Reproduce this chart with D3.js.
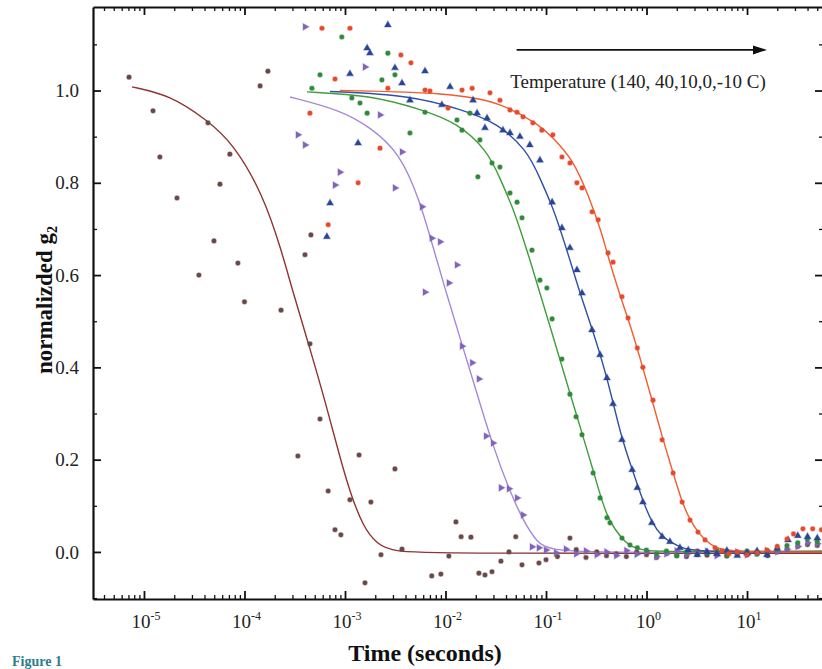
<!DOCTYPE html>
<html>
<head>
<meta charset="utf-8">
<script src="https://cdn.jsdelivr.net/npm/d3@7"></script>
<style>
  body { margin: 0; background: #fff; }
  svg { display: block; font-family: "Liberation Serif", "DejaVu Serif", serif; }
</style>
</head>
<body>
<script>
'use strict';

// tick decades on the time axis and value ticks
const decades = [-5, -4, -3, -2, -1, 0, 1];
const yTicks = [0, 0.2, 0.4, 0.6, 0.8, 1.0];
const yMinorTicks = [-0.1, 0.1, 0.3, 0.5, 0.7, 0.9, 1.1];

// 140 C
const brownPoints = [[7.1e-6,1.029],[1.23e-5,0.956],[1.44e-5,0.856],[2.13e-5,0.767],[3.52e-5,0.60],[4.33e-5,0.93],
  [4.97e-5,0.674],[5.7e-5,0.797],[7.15e-5,0.862],[8.6e-5,0.626],[1.0e-4,0.542],[1.43e-4,1.01],[1.71e-4,1.042],
  [2.31e-4,0.524],[3.4e-4,0.208],[4.0e-4,0.644],[4.48e-4,0.451],[4.58e-4,0.687],[5.64e-4,0.288],[6.8e-4,0.132],
  [7.95e-4,0.048],[9.1e-4,0.037],[1.12e-3,0.113],[1.38e-3,0.21],[1.58e-3,-0.067],[1.81e-3,0.108],[2.28e-3,-0.006],
  [3.14e-3,0.18],[3.69e-3,0.006],[7.3e-3,-0.052],[9.0e-3,-0.048],[1.08e-2,-0.009],[1.27e-2,0.065],[1.43e-2,0.033],
  [1.79e-2,0.032],[2.15e-2,-0.046],[2.47e-2,-0.05],[2.9e-2,-0.043],[3.56e-2,-0.02],[4.28e-2,0.0],[5.0e-2,0.033],
  [5.77e-2,-0.028],[8.5e-2,-0.024],[0.1,-0.017],[0.13,-0.01],[0.173,0.03],[0.2,0.005],[0.25,-0.012],[0.32,0.0],
  [0.4,-0.008],[0.5,-0.004],[0.63,-0.01],[0.8,0.0],[1.0,-0.006],[1.26,-0.012],[1.6,-0.003],[2.0,-0.008],[2.5,-0.01],
  [3.2,0.002],[4.0,-0.007],[5.0,-0.005],[6.3,-0.009],[8.0,-0.004],[10,-0.006],[12.6,-0.003],[16,-0.008],[20,0.0],
  [25,0.006],[32,0.012],[40,0.016],[50,0.014]];
const brownFit = [[7.6e-6,1.008],[1.82e-5,0.99],[4.24e-5,0.936],[7.69e-5,0.886],[1.53e-4,0.775],[2.36e-4,0.65],
  [2.97e-4,0.57],[4.49e-4,0.44],[6.47e-4,0.32],[8.9e-4,0.205],[1.12e-3,0.13],[1.51e-3,0.055],[2.08e-3,0.017],
  [3.0e-3,0.0],[1e-2,-0.003],[57,-0.003]];

// 40 C
const purplePoints = [[3.4e-4,0.904],[4.0e-4,0.882],[4.0e-4,1.138],[7.95e-4,0.795],[8.9e-4,0.823],[1.58e-3,1.051],
  [2.23e-3,0.947],[3.14e-3,0.789],[3.69e-3,0.867],[5.84e-3,0.748],[6.25e-3,0.563],[7.3e-3,0.68],[8.82e-3,0.672],
  [1.08e-2,0.583],[1.3e-2,0.622],[1.46e-2,0.446],[1.84e-2,0.41],[2.15e-2,0.375],[2.53e-2,0.251],[2.97e-2,0.236],
  [3.56e-2,0.139],[4.28e-2,0.137],[5.15e-2,0.117],[5.9e-2,0.08],[7.25e-2,0.011],[8.5e-2,0.009],[0.1,0.004],
  [0.126,-0.002],[0.158,0.006],[0.2,-0.004],[0.25,0.002],[0.32,-0.006],[0.4,0.0],[0.5,-0.008],[0.63,0.003],
  [0.8,-0.005],[1.0,0.0],[1.26,-0.01],[1.58,-0.004],[2.0,0.002],[2.5,-0.006],[3.2,-0.002],[4.0,0.001],[5.0,-0.008],
  [6.3,-0.004],[8.0,0.0],[10,-0.006],[12.6,-0.002],[15.8,0.003],[20,0.0],[25,0.006],[32,0.012],[40,0.02],[50,0.018]];
const purpleFit = [[2.84e-4,0.986],[8.9e-4,0.958],[1.77e-3,0.921],[3.52e-3,0.865],[5.57e-3,0.76],[7.18e-3,0.676],
  [9.9e-3,0.57],[1.39e-2,0.465],[1.97e-2,0.357],[2.97e-2,0.228],[4.39e-2,0.13],[5.9e-2,0.069],[8.13e-2,0.02],
  [0.11,0.004],[0.344,-0.002],[57,0.0]];

// 10 C
const greenPoints = [[4.69e-4,1.005],[5.64e-4,1.034],[9.3e-4,1.116],[1.17e-3,0.984],[1.41e-3,0.973],[1.66e-3,0.951],
  [2.33e-3,1.023],[2.67e-3,1.081],[3.14e-3,1.034],[4.43e-3,0.908],[6.25e-3,0.953],[1.3e-2,0.936],[1.46e-2,0.914],
  [1.75e-2,0.951],[2.1e-2,0.813],[2.2e-2,0.893],[2.9e-2,0.843],[3.48e-2,0.834],[4.38e-2,0.778],[5.15e-2,0.758],
  [5.77e-2,0.724],[7.25e-2,0.654],[8.7e-2,0.589],[0.102,0.572],[0.115,0.505],[0.144,0.418],[0.173,0.342],
  [0.199,0.293],[0.228,0.254],[0.294,0.171],[0.345,0.117],[0.404,0.074],[0.433,0.063],[0.57,0.03],[0.685,0.015],
  [0.81,0.009],[1.0,0.004],[1.26,-0.004],[1.58,0.002],[2.0,-0.008],[2.5,0.0],[3.2,-0.006],[4.0,-0.002],[5.0,0.003],
  [6.3,-0.007],[8.0,-0.003],[10,0.002],[12.6,-0.005],[15.8,0.0],[20,0.006],[25,0.014],[32,0.02],[40,0.028],[50,0.022]];
const greenFit = [[4.19e-4,0.997],[1.77e-3,0.99],[5.97e-3,0.958],[1.3e-2,0.93],[2.59e-2,0.871],[3.48e-2,0.81],
  [4.59e-2,0.75],[5.51e-2,0.70],[6.93e-2,0.633],[8.71e-2,0.56],[0.110,0.488],[0.138,0.416],[0.173,0.344],
  [0.218,0.272],[0.274,0.20],[0.344,0.125],[0.405,0.078],[0.486,0.048],[0.611,0.022],[0.718,0.011],[0.923,0.004],
  [1.36,0.0],[57,0.002]];

// 0 C
const bluePoints = [[6.6e-4,0.683],[7.1e-4,0.756],[1.12e-3,1.036],[1.35e-3,0.886],[1.66e-3,1.092],[1.77e-3,1.081],
  [2.67e-3,1.142],[3.14e-3,1.049],[3.69e-3,1.016],[4.43e-3,0.979],[6.25e-3,1.042],[9.2e-3,0.969],[1.11e-2,1.008],
  [1.88e-2,0.979],[2.06e-2,0.951],[2.47e-2,0.919],[2.59e-2,0.94],[3.73e-2,0.914],[4.38e-2,0.908],[5.5e-2,0.90],
  [6.9e-2,0.882],[8.7e-2,0.849],[0.115,0.758],[0.144,0.702],[0.173,0.659],[0.203,0.611],[0.228,0.561],[0.287,0.481],
  [0.345,0.427],[0.404,0.377],[0.464,0.321],[0.57,0.243],[0.72,0.178],[0.81,0.139],[0.92,0.108],[1.13,0.063],
  [1.43,0.033],[1.71,0.022],[2.15,0.009],[2.6,0.004],[3.2,-0.006],[4.0,0.0],[5.0,-0.004],[6.3,0.003],[8.0,-0.008],
  [10,-0.002],[12.6,0.002],[15.8,-0.006],[20,0.008],[25.6,0.026],[32,0.035],[40,0.033],[50,0.03]];
const blueFit = [[7.1e-4,0.998],[4.44e-3,0.99],[1.49e-2,0.958],[3.25e-2,0.93],[6.47e-2,0.871],[8.71e-2,0.81],
  [0.115,0.75],[0.138,0.70],[0.173,0.633],[0.218,0.56],[0.287,0.485],[0.405,0.38],[0.557,0.25],[0.718,0.18],
  [0.923,0.11],[1.13,0.063],[1.43,0.033],[1.79,0.02],[2.25,0.009],[3.04,0.0],[57,0.0]];

// -10 C
const redPoints = [[4.48e-4,0.951],[5.9e-4,1.135],[6.8e-4,0.709],[7.95e-4,1.025],[1.12e-3,1.135],[1.35e-3,0.80],
  [2.23e-3,0.875],[2.67e-3,1.005],[3.6e-3,1.077],[4.53e-3,1.06],[6.25e-3,1.001],[7.0e-3,0.999],[1.06e-2,0.962],
  [1.46e-2,1.001],[1.84e-2,1.005],[2.77e-2,0.995],[3.48e-2,0.979],[4.38e-2,0.958],[5.15e-2,0.953],[5.9e-2,0.943],
  [7.4e-2,0.93],[9.1e-2,0.914],[0.117,0.904],[0.144,0.856],[0.173,0.843],[0.203,0.80],[0.228,0.789],[0.287,0.737],
  [0.33,0.72],[0.414,0.648],[0.464,0.628],[0.57,0.553],[0.655,0.507],[0.81,0.442],[0.92,0.40],[1.16,0.329],
  [1.43,0.243],[1.84,0.171],[2.26,0.108],[2.71,0.069],[3.25,0.043],[3.82,0.026],[4.8,0.009],[5.6,0.002],
  [6.6,-0.004],[8.0,0.0],[10,-0.006],[12.6,-0.002],[15.8,0.004],[20,0.012],[25,0.028],[29,0.039],[36,0.05],
  [45,0.05],[55,0.048]];
const redFit = [[8.9e-4,1.0],[1.11e-2,0.995],[3.48e-2,0.975],[8.71e-2,0.925],[0.117,0.898],[0.186,0.85],
  [0.262,0.775],[0.361,0.69],[0.395,0.655],[0.545,0.555],[0.718,0.48],[0.902,0.405],[1.16,0.322],[1.43,0.25],
  [1.84,0.171],[2.25,0.108],[2.71,0.069],[3.25,0.043],[3.82,0.026],[4.81,0.009],[6.78,0.0],[57,0.0]];

const annotationText = 'Temperature (140, 40,10,0,-10 C)';
const arrowFrom = [0.051, 1.088];
const arrowTo = [15.8, 1.088];
const annotationAt = [0.044, 1.005];

const series = [
  { points: brownPoints, fit: brownFit, line: '#8d3434', mark: '#6b4848', shape: d3.symbolCircle, size: 17, rot: 0 },
  { points: purplePoints, fit: purpleFit, line: '#a48ad6', mark: '#8064b8', shape: d3.symbolTriangle, size: 20, rot: 90 },
  { points: greenPoints, fit: greenFit, line: '#3f9e3c', mark: '#2f8a3a', shape: d3.symbolCircle, size: 17, rot: 0 },
  { points: bluePoints, fit: blueFit, line: '#3150a6', mark: '#2a4595', shape: d3.symbolTriangle, size: 20, rot: 0 },
  { points: redPoints, fit: redFit, line: '#f25c30', mark: '#e64a2c', shape: d3.symbolCircle, size: 17, rot: 0 }
];

let svg = '';

window.onload = function () {
  svg = d3.select('body').append('svg').attr('width', 822).attr('height', 669);
  let funcs = drawAxes(svg, { min: 93, max: 823 }, { min: 7, max: 599 });
  series.forEach((s) => plotFit(funcs, s));
  series.forEach((s) => plotPoints(funcs, s));
  drawLabels(funcs);
};

function drawAxes(svg, rangeX, rangeY) {
  let xScale = d3.scaleLog().domain([3.11e-6, 57]).range([rangeX.min, rangeX.max]);
  let yScale = d3.scaleLinear().domain([-0.102, 1.181]).range([rangeY.max, rangeY.min]);

  let majorX = decades.map((e) => Math.pow(10, e));
  let minorX = [];
  for (let e = -6; e <= 1; e++) {
    for (let m = 2; m <= 9; m++) {
      let t = m * Math.pow(10, e);
      if (t > xScale.domain()[0] && t < xScale.domain()[1]) minorX.push(t);
    }
  }

  let yMinor = yMinorTicks.filter((v) => v > yScale.domain()[0]);
  let axes = [
    { axis: d3.axisBottom(xScale), at: 'translate(0,' + rangeY.max + ')', major: majorX, minor: minorX },
    { axis: d3.axisTop(xScale), at: 'translate(0,' + rangeY.min + ')', major: majorX, minor: minorX },
    { axis: d3.axisLeft(yScale), at: 'translate(' + rangeX.min + ',0)', major: yTicks, minor: yMinor },
    { axis: d3.axisRight(yScale), at: 'translate(' + rangeX.max + ',0)', major: yTicks, minor: yMinor }
  ];
  axes.forEach((a) => {
    let g = svg.append('g').attr('transform', a.at)
      .call(a.axis.tickValues(a.minor).tickSize(-4).tickSizeOuter(0).tickFormat(''));
    g.select('.domain').remove();
    g.selectAll('line').attr('stroke', '#111').attr('stroke-width', 1.3);
    let g2 = svg.append('g').attr('transform', a.at)
      .call(a.axis.tickValues(a.major).tickSize(-8).tickSizeOuter(0).tickFormat(''));
    g2.select('.domain').attr('stroke', '#111').attr('stroke-width', 2.2);
    g2.selectAll('line').attr('stroke', '#111').attr('stroke-width', 1.8);
  });

  // tick labels
  let xl = svg.append('g').style('font-size', '19px').attr('fill', '#222');
  decades.forEach((e) => {
    let t = xl.append('text')
      .attr('x', xScale(Math.pow(10, e)) + 2)
      .attr('y', rangeY.max + 29)
      .attr('text-anchor', 'middle');
    t.append('tspan').text('10');
    t.append('tspan').attr('dy', -8).style('font-size', '12px').text(String(e));
  });
  let yl = svg.append('g').style('font-size', '19px').attr('fill', '#222');
  yTicks.forEach((v) => {
    yl.append('text')
      .attr('x', rangeX.min - 14)
      .attr('y', yScale(v))
      .attr('dy', '0.35em')
      .attr('text-anchor', 'end')
      .text(v.toFixed(1));
  });

  return { x: (d) => xScale(d[0]), y: (d) => yScale(d[1]), xScale: xScale, yScale: yScale };
}

function plotFit(funcs, s) {
  let line = d3.line()
    .x(funcs.x)
    .y(funcs.y)
    .curve(d3.curveBasis);
  svg.append('path')
    .datum(s.fit)
    .attr('fill', 'none')
    .attr('stroke', s.line)
    .attr('stroke-width', 1.4)
    .attr('d', line);
}

function plotPoints(funcs, s) {
  let sym = d3.symbol().type(s.shape).size(s.size);
  svg.append('g').selectAll('path')
    .data(s.points)
    .enter()
    .append('path')
    .attr('d', sym)
    .attr('fill', s.mark)
    .attr('stroke', s.mark)
    .attr('stroke-opacity', 0.35)
    .attr('stroke-width', 1.2)
    .attr('transform', (d) => 'translate(' + funcs.x(d) + ',' + funcs.y(d) + ') rotate(' + s.rot + ')');
}

function drawLabels(funcs) {
  svg.append('text')
    .attr('transform', 'translate(44, 300) rotate(-90)')
    .attr('text-anchor', 'middle')
    .attr('dy', '0.35em')
    .style('font-size', '23px')
    .style('font-weight', 'bold')
    .attr('fill', '#111')
    .call((t) => {
      t.append('tspan').text('normalizded g');
      t.append('tspan').attr('dy', 5).style('font-size', '14px').text('2');
    });

  svg.append('text')
    .attr('x', 425)
    .attr('y', 661)
    .attr('text-anchor', 'middle')
    .style('font-size', '24px')
    .style('font-weight', 'bold')
    .attr('fill', '#111')
    .text('Time (seconds)');

  svg.append('text')
    .attr('x', 12)
    .attr('y', 666)
    .style('font-size', '14px')
    .style('font-weight', 'bold')
    .attr('fill', '#2f7d8c')
    .text('Figure 1');

  // temperature arrow
  let x1 = funcs.xScale(arrowFrom[0]), x2 = funcs.xScale(arrowTo[0]), ya = funcs.yScale(arrowFrom[1]);
  svg.append('line')
    .attr('x1', x1).attr('y1', ya)
    .attr('x2', x2 - 12).attr('y2', ya)
    .attr('stroke', '#111')
    .attr('stroke-width', 1.6);
  svg.append('path')
    .attr('d', 'M' + x2 + ',' + ya + 'L' + (x2 - 14) + ',' + (ya - 4.5) + 'L' + (x2 - 14) + ',' + (ya + 4.5) + 'Z')
    .attr('fill', '#111');
  svg.append('text')
    .attr('x', funcs.xScale(annotationAt[0]))
    .attr('y', funcs.yScale(annotationAt[1]))
    .style('font-size', '19px')
    .attr('fill', '#222')
    .text(annotationText);
}
</script>
</body>
</html>
